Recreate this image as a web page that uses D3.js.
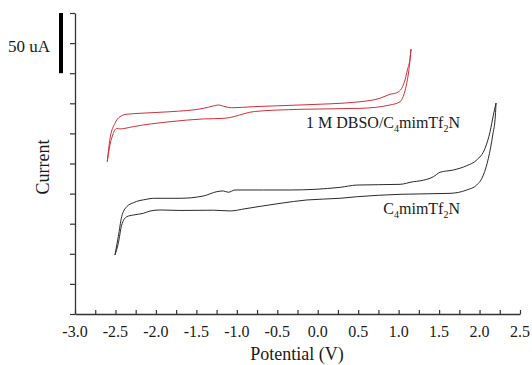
<!DOCTYPE html>
<html><head><meta charset="utf-8">
<script src="https://cdn.jsdelivr.net/npm/d3@7"></script>
<style>body{margin:0;background:#fff}svg{display:block}text{font-family:"Liberation Serif","Times New Roman",serif;fill:#1a1a1a}</style>
</head><body><svg id="c" width="532" height="365"></svg>
<script>
// Potential (V) and current (uA, arbitrary baseline)
const dbsoUpperV = [-2.601,-2.567,-2.506,-2.444,-2.361,-2.197,-1.826,-1.414,-1.290,-1.229,-1.146,-1.063,-0.796,-0.219,0.523,0.770,0.894,0.977,1.038,1.079,1.108,1.141,1.153];
const dbsoUpperI = [126.5,145.9,158.4,163.9,165.9,166.7,168.0,170.8,172.8,173.6,172.2,171.3,172.2,173.6,176.3,179.2,182.5,183.8,187.5,194.4,202.7,212.4,220.1];
const dbsoLowerV = [-2.601,-2.576,-2.534,-2.485,-2.444,-2.382,-2.279,-1.826,-1.414,-1.160,-1.030,-0.900,-0.780,-0.219,0.523,0.894,1.017,1.070,1.100,1.132,1.153];
const dbsoLowerI = [126.5,137.6,148.7,154.2,153.7,154.2,155.6,159.7,162.0,162.5,164.0,166.6,168.2,170.0,170.8,173.6,176.3,183.3,191.6,205.4,220.1];
const ilUpperV = [-2.506,-2.465,-2.423,-2.361,-2.279,-2.114,-2.032,-1.702,-1.414,-1.248,-1.167,-1.105,-1.022,-0.672,-0.342,0.276,0.482,1.017,1.182,1.265,1.429,1.512,1.676,1.842,1.965,2.068,2.130,2.171,2.204];
const ilUpperI = [49.0,64.2,80.8,89.1,92.4,95.3,96.1,96.1,98.0,101.6,102.2,101.1,103.0,103.0,103.0,105.2,107.1,107.7,109.9,110.6,114.0,117.7,119.6,123.2,127.9,137.6,151.4,165.3,175.2];
const ilLowerV = [-2.506,-2.465,-2.423,-2.361,-2.279,-2.156,-2.073,-1.949,-1.702,-1.290,-1.080,-0.900,-0.466,-0.136,0.276,0.482,1.017,1.635,1.842,1.965,2.047,2.109,2.163,2.196,2.204];
const ilLowerI = [49.0,58.7,73.9,80.8,82.2,83.6,85.5,86.4,86.0,86.2,85.6,87.4,91.9,94.7,96.1,97.4,99.4,100.2,103.0,107.1,115.4,129.3,148.7,165.3,175.2];
const xTicks = [-3.0,-2.5,-2.0,-1.5,-1.0,-0.5,0.0,0.5,1.0,1.5,2.0,2.5];
const seriesLabels = [["1 M DBSO/C","4","mimTf","2","N"],["C","4","mimTf","2","N"]];
const scaleBarValue = [50];

const svg = d3.select("#c");
const x = d3.scaleLinear().domain([-3.0, 2.5]).range([75, 520]);
const y = d3.scaleLinear().domain([0, 250]).range([314, 13]);

const line = d3.line().x(d => x(d[0])).y(d => y(d[1])).curve(d3.curveMonotoneX);
const draw = (parts, color) => parts.forEach(p =>
  svg.append("path").attr("d", line(p)).attr("fill", "none").attr("stroke", color).attr("stroke-width", 1));
draw([d3.zip(dbsoUpperV, dbsoUpperI), d3.zip(dbsoLowerV, dbsoLowerI)], "#d0303a");
draw([d3.zip(ilUpperV, ilUpperI), d3.zip(ilLowerV, ilLowerI)], "#2a2a2a");

// Y axis
const ya = svg.append("g").attr("transform", "translate(75,0)")
  .call(d3.axisLeft(y).tickValues(d3.range(0, 251, 25)).tickFormat("").tickSize(5).tickSizeOuter(0));
ya.select(".domain").attr("stroke", "#333").attr("stroke-width", 1.3);
ya.selectAll(".tick line").attr("stroke", "#333").attr("stroke-width", 1.2);

// X axis
const xa = svg.append("g").attr("transform", "translate(0,314)")
  .call(d3.axisBottom(x).tickValues(d3.range(-3.0, 2.51, 0.25)).tickFormat("").tickSize(-4).tickSizeOuter(0));
xa.select(".domain").attr("stroke", "#333").attr("stroke-width", 1.3);
xa.selectAll(".tick line").attr("stroke", "#333").attr("stroke-width", 1.2);
svg.append("g").selectAll("text").data(xTicks).join("text")
  .attr("x", d => x(d)).attr("y", 337).attr("text-anchor", "middle").attr("font-size", 16)
  .text(d => d.toFixed(1));

svg.append("text").attr("x", 297).attr("y", 360).attr("text-anchor", "middle").attr("font-size", 18).text("Potential (V)");
svg.append("text").attr("transform", "translate(49,167) rotate(-90)").attr("text-anchor", "middle").attr("font-size", 18).text("Current");

// Scale bar
svg.append("rect").attr("x", 59).attr("width", 4)
  .attr("y", y(250)).attr("height", y(250 - scaleBarValue[0]) - y(250)).attr("fill", "#000");
svg.append("text").attr("x", 8).attr("y", 52).attr("font-size", 17).text(scaleBarValue[0] + " uA");

// Labels with subscripts
function label(parts, xr, yb) {
  const t = svg.append("text").attr("x", xr).attr("y", yb).attr("text-anchor", "end").attr("font-size", 16);
  let sub = false;
  parts.forEach((p, i) => {
    const isSub = i % 2 === 1;
    const ts = t.append("tspan").text(p);
    if (isSub) ts.attr("font-size", 10).attr("dy", 4);
    else if (sub) ts.attr("dy", -4);
    sub = isSub;
  });
}
label(seriesLabels[0], 460, 128);
label(seriesLabels[1], 460, 214);
</script></body></html>
